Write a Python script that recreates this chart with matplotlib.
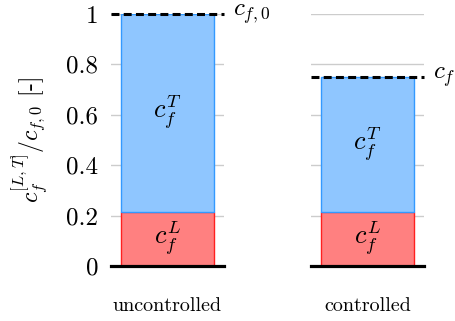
import matplotlib
matplotlib.use("Agg")
import matplotlib.pyplot as plt
import matplotlib.transforms as mtransforms

plt.rcParams['font.family'] = ['cmr10', 'DejaVu Serif']
plt.rcParams['mathtext.fontset'] = 'cm'
plt.rcParams['axes.formatter.use_mathtext'] = True

cases = ["uncontrolled", "controlled"]
laminar = [0.215, 0.215]
total = [1.0, 0.75]
ref_labels = [r"$c_{f,0}$", r"$c_f$"]
yticks = [0, 0.2, 0.4, 0.6, 0.8, 1.0]
yticklabels = ["0", "0.2", "0.4", "0.6", "0.8", "1"]

blue_fill = "#8fc6ff"
blue_edge = "#3399ff"
red_fill = "#ff8080"
red_edge = "#ff2020"

fig = plt.figure(figsize=(4.56, 3.21), dpi=100)
lefts = [111/456, 311/456]
bottom = 1 - 266/321
height = 252/321
width = 113/456

for i, name in enumerate(cases):
    ax = fig.add_axes([lefts[i], bottom, width, height])
    ax.set_xlim(-0.5, 0.5)
    ax.set_ylim(0, 1)
    for s in ax.spines.values():
        s.set_visible(False)
    ax.set_xticks([])
    ax.set_yticks(yticks)
    if i == 0:
        ax.set_yticklabels(yticklabels, fontsize=18)
    else:
        ax.set_yticklabels([])
    ax.tick_params(axis='y', length=0, pad=9)
    ax.grid(axis='y', color='#cccccc', linewidth=1.0)
    ax.set_axisbelow(True)
    w = 0.823
    ax.bar(0, laminar[i], width=w, color=red_fill, edgecolor=red_edge, linewidth=1.0, zorder=2)
    ax.bar(0, total[i] - laminar[i], bottom=laminar[i], width=w, color=blue_fill,
           edgecolor=blue_edge, linewidth=1.0, zorder=2)
    ax.text(0, laminar[i] / 2, r"$c_f^L$", ha='center', va='center', fontsize=19, zorder=3)
    ax.text(0, (laminar[i] + total[i]) / 2, r"$c_f^T$", ha='center', va='center', fontsize=19, zorder=3)
    ax.axhline(0, color='black', linewidth=2.3, clip_on=False, zorder=4)
    ax.axhline(total[i], color='black', linewidth=2.2, linestyle=(0, (2.6, 1.4)), clip_on=False, zorder=4)
    trans = mtransforms.blended_transform_factory(ax.transAxes, ax.transData)
    ax.text(1.08, total[i], ref_labels[i], transform=trans, ha='left', va='center', fontsize=18)
    ax.text(0.5, -0.16, name, transform=ax.transAxes, ha='center', va='center', fontsize=14.5)

fig.text(29/456, 1 - 140/321, r"$c_f^{[L,T]}/c_{f,0}$ [-]", rotation=90,
         ha='center', va='center', fontsize=17)

fig.savefig("out.png", dpi=100)
